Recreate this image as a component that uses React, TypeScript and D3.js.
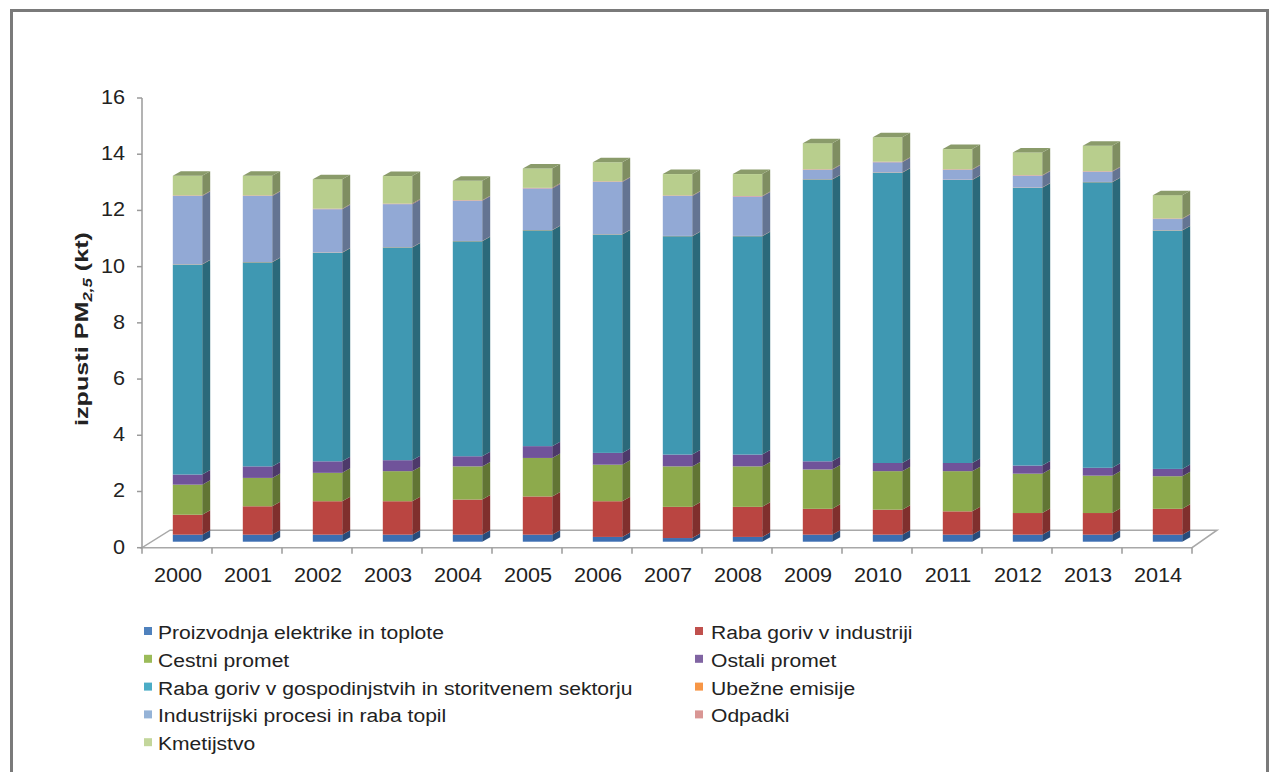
import React from 'react';
import * as d3 from 'd3';

// PM2,5 emissions by sector, kt
const YEARS = ['2000', '2001', '2002', '2003', '2004', '2005', '2006', '2007', '2008', '2009', '2010', '2011', '2012', '2013', '2014'];

const SERIES_NAMES = [
  'Proizvodnja elektrike in toplote',
  'Raba goriv v industriji',
  'Cestni promet',
  'Ostali promet',
  'Raba goriv v gospodinjstvih in storitvenem sektorju',
  'Ubežne emisije',
  'Industrijski procesi in raba topil',
  'Odpadki',
  'Kmetijstvo',
];

const proizvodnja = [0.25, 0.25, 0.25, 0.25, 0.25, 0.25, 0.17, 0.13, 0.17, 0.25, 0.25, 0.25, 0.25, 0.25, 0.25];
const industrija = [0.71, 1.01, 1.19, 1.19, 1.25, 1.36, 1.27, 1.11, 1.07, 0.92, 0.89, 0.83, 0.77, 0.77, 0.92];
const cestniPromet = [1.07, 1.01, 1.01, 1.07, 1.18, 1.37, 1.30, 1.44, 1.44, 1.40, 1.37, 1.43, 1.40, 1.33, 1.16];
const ostaliPromet = [0.36, 0.41, 0.41, 0.39, 0.36, 0.42, 0.42, 0.42, 0.42, 0.29, 0.29, 0.29, 0.29, 0.28, 0.26];
const gospodinjstva = [7.47, 7.26, 7.42, 7.57, 7.65, 7.68, 7.77, 7.77, 7.77, 10.03, 10.33, 10.07, 9.88, 10.16, 8.48];
const ubezne = [0.01, 0.01, 0.01, 0.01, 0.01, 0.01, 0.01, 0.01, 0.01, 0.01, 0.01, 0.01, 0.01, 0.01, 0.01];
const procesi = [2.43, 2.35, 1.54, 1.53, 1.43, 1.48, 1.86, 1.42, 1.40, 0.33, 0.36, 0.35, 0.42, 0.36, 0.40];
const odpadki = [0.02, 0.02, 0.02, 0.02, 0.02, 0.02, 0.02, 0.02, 0.02, 0.02, 0.02, 0.02, 0.02, 0.02, 0.02];
const kmetijstvo = [0.70, 0.70, 1.05, 0.98, 0.69, 0.69, 0.68, 0.76, 0.78, 0.93, 0.87, 0.72, 0.81, 0.91, 0.83];

const SERIES_VALUES = [proizvodnja, industrija, cestniPromet, ostaliPromet, gospodinjstva, ubezne, procesi, odpadki, kmetijstvo];

const Y_TICKS = [0, 2, 4, 6, 8, 10, 12, 14, 16];

// legend swatch colours and lit front-face colours of the columns
const LEGEND_COLORS = ['#4F81BD', '#C0504D', '#9BBB59', '#8064A2', '#4BACC6', '#F79646', '#95B3D7', '#D99694', '#C3D69B'];
const FRONT_COLORS = ['#3C6EB2', '#BA4541', '#8DAA4C', '#70539A', '#3F98B2', '#EE8A3C', '#92A9D5', '#D58B89', '#B8CE8D'];

const FONT = '"Liberation Sans", Arial, sans-serif';
const TEXT_COLOR = '#222222';
const SX = 1.11; // horizontal glyph stretch of all labels

// plot geometry
const X_LEFT = 142;
const X_RIGHT = 1192;
const Y_ZERO = 547.7;
const Y_TOP = 98;
const FLOOR_DEPTH = { dx: 26.5, dy: -17.5 };
const BAR_SHIFT = { dx: 10.5, dy: -6 };
const BAR_DEPTH = { dx: 8, dy: -4.5 };
const BAR_RATIO = 0.42;

function StretchedText(props: {
  x: number; y: number; anchor?: string; size: number; weight?: string; children: React.ReactNode;
}) {
  const { x, y, anchor = 'start', size, weight = 'normal', children } = props;
  return (
    <g transform={`translate(${x},${y}) scale(${SX},1)`}>
      <text x={0} y={0} textAnchor={anchor} fontSize={size} fontWeight={weight} fontFamily={FONT} fill={TEXT_COLOR}>
        {children}
      </text>
    </g>
  );
}

export default function App() {
  const y = d3.scaleLinear().domain([0, 16]).range([Y_ZERO, Y_TOP]);
  const x = d3.scaleBand<string>().domain(YEARS).range([X_LEFT, X_RIGHT]);
  const band = x.bandwidth();
  const barW = band * BAR_RATIO;

  const keys = SERIES_NAMES;
  const table = YEARS.map((yr, i) => {
    const row: Record<string, number | string> = { year: yr };
    keys.forEach((k, j) => { row[k] = SERIES_VALUES[j][i]; });
    return row;
  });
  const stacked = d3.stack<Record<string, number | string>>().keys(keys)(table as any);

  const shade = (c: string, k: number) => d3.rgb(c).darker(k).formatHex();

  const bars = YEARS.map((yr, i) => {
    const xl = (x(yr) as number) + (band - barW) / 2 + BAR_SHIFT.dx;
    const xr = xl + barW;
    const parts: React.ReactNode[] = [];
    stacked.forEach((layer, j) => {
      const [v0, v1] = layer[i];
      const yb = y(v0) + BAR_SHIFT.dy;
      const yt = y(v1) + BAR_SHIFT.dy;
      const front = FRONT_COLORS[j];
      const side = [
        [xr, yt], [xr + BAR_DEPTH.dx, yt + BAR_DEPTH.dy],
        [xr + BAR_DEPTH.dx, yb + BAR_DEPTH.dy], [xr, yb],
      ].map((p) => p.join(',')).join(' ');
      parts.push(<polygon key={`s${j}`} points={side} fill={shade(front, 1.05)} />);
      parts.push(<rect key={`f${j}`} x={xl} y={yt} width={barW} height={Math.max(0, yb - yt)} fill={front} />);
    });
    const last = stacked[stacked.length - 1][i][1];
    const yt = y(last) + BAR_SHIFT.dy;
    const top = [
      [xl, yt], [xl + BAR_DEPTH.dx, yt + BAR_DEPTH.dy],
      [xr + BAR_DEPTH.dx, yt + BAR_DEPTH.dy], [xr, yt],
    ].map((p) => p.join(',')).join(' ');
    parts.push(<polygon key="top" points={top} fill={shade(FRONT_COLORS[FRONT_COLORS.length - 1], 0.8)} />);
    return <g key={yr}>{parts}</g>;
  });

  const floor = [
    [X_LEFT, Y_ZERO], [X_RIGHT, Y_ZERO],
    [X_RIGHT + FLOOR_DEPTH.dx - 1.5, Y_ZERO + FLOOR_DEPTH.dy],
    [X_LEFT + FLOOR_DEPTH.dx + 1.5, Y_ZERO + FLOOR_DEPTH.dy],
  ].map((p) => p.join(',')).join(' ');

  const boundaries = [...YEARS.map((yr) => x(yr) as number), X_RIGHT];

  return (
    <svg width={1274} height={772} style={{ position: 'fixed', left: 0, top: 0, background: '#fff' }}>
      <rect x={0} y={0} width={1274} height={772} fill="#fff" />
      <rect x={11.5} y={10.5} width={1256} height={800} fill="none" stroke="#7a7a7a" strokeWidth={3} />

      {/* floor */}
      <polygon points={floor} fill="#fff" stroke="#a8a8a8" strokeWidth={1.5} />

      {/* value axis */}
      <line x1={X_LEFT} x2={X_LEFT} y1={Y_TOP} y2={Y_ZERO} stroke="#9a9a9a" strokeWidth={1.5} />
      {Y_TICKS.map((t) => (
        <g key={t}>
          <line x1={X_LEFT - 5} x2={X_LEFT} y1={y(t)} y2={y(t)} stroke="#9a9a9a" strokeWidth={1.5} />
          <StretchedText x={X_LEFT - 17} y={y(t) + 6} anchor="end" size={19.5}>{t}</StretchedText>
        </g>
      ))}

      {/* category axis */}
      {boundaries.map((bx, i) => (
        <line key={i} x1={bx} x2={bx} y1={Y_ZERO} y2={Y_ZERO + 6} stroke="#9a9a9a" strokeWidth={1.5} />
      ))}
      {YEARS.map((yr) => (
        <StretchedText key={yr} x={(x(yr) as number) + band / 2 + 1} y={582} anchor="middle" size={19.5}>{yr}</StretchedText>
      ))}

      {bars}

      {/* axis title */}
      <g transform={`translate(88,329) rotate(-90)`}>
        <text x={0} y={0} textAnchor="middle" fontSize={18} fontWeight="bold" fontFamily={FONT} fill={TEXT_COLOR}
          textLength={194} lengthAdjust="spacingAndGlyphs">
          izpusti PM<tspan fontSize={12} fontStyle="italic" dy={4}>2,5</tspan><tspan dy={-4}> (kt)</tspan>
        </text>
      </g>

      {/* legend */}
      {SERIES_NAMES.map((name, k) => {
        const col = k % 2;
        const row = Math.floor(k / 2);
        const base = 639 + row * 27.8;
        const sqX = col === 0 ? 144 : 695;
        const txX = col === 0 ? 158 : 711;
        return (
          <g key={name}>
            <rect x={sqX} y={base - 12} width={8} height={8} fill={LEGEND_COLORS[k]} />
            <StretchedText x={txX} y={base} size={19}>{name}</StretchedText>
          </g>
        );
      })}
    </svg>
  );
}
